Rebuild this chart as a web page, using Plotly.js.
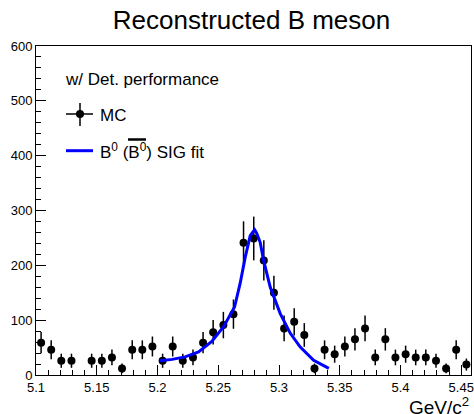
<!DOCTYPE html>
<html>
<head>
<meta charset="utf-8">
<script src="https://cdn.plot.ly/plotly-3.0.1.min.js"></script>
<style>html,body{margin:0;padding:0;background:#fff;}</style>
</head>
<body>
<div id="chart" style="width:474px;height:414px;"></div>
<script>
// Bin centres of the MC histogram (GeV/c^2)
const binCenters = [5.1042, 5.1125, 5.1208, 5.1292, 5.1375, 5.1458, 5.1542, 5.1625, 5.1708, 5.1792,
  5.1875, 5.1958, 5.2042, 5.2125, 5.2208, 5.2292, 5.2375, 5.2458, 5.2542, 5.2625,
  5.2708, 5.2792, 5.2875, 5.2958, 5.3042, 5.3125, 5.3208, 5.3292, 5.3375, 5.3458,
  5.3542, 5.3625, 5.3708, 5.3792, 5.3875, 5.3958, 5.4042, 5.4125, 5.4208, 5.4292,
  5.4375, 5.4458, 5.4542];
// MC counts per bin
const mcCounts = [59, 46, 26, 26, null, 26, 26, 32, 12, 46,
  46, 52, 26, 52, 26, 32, 59, 78, 91, 111,
  241, 249, 209, 150, 85, 97, 73, 12, 46, 38,
  52, 65, 85, 32, 65, 32, 38, 32, 32, 26,
  12, 46, 19];
// MC statistical errors
const mcErrors = [19.4, 17.2, 12.9, 12.9, null, 12.9, 12.9, 14.3, 8.8, 17.2,
  17.2, 18.2, 12.9, 18.2, 12.9, 14.3, 19.4, 22.3, 24.1, 26.7,
  39.3, 39.9, 36.6, 31.0, 23.3, 24.9, 21.6, 8.8, 17.2, 15.6,
  18.2, 20.4, 23.3, 14.3, 20.4, 14.3, 15.6, 14.3, 14.3, 12.9,
  8.8, 17.2, 11.0];
// Signal fit curve
const fitX = [5.202, 5.212, 5.2227, 5.2338, 5.2447, 5.2544, 5.2634, 5.268, 5.2722, 5.2745,
  5.2763, 5.2799, 5.2815, 5.2845, 5.2873, 5.2928, 5.301, 5.3093, 5.3175, 5.3285, 5.341];
const fitY = [26, 28.5, 33, 42, 61, 88, 124, 167, 215, 240,
  254, 265, 259, 242, 209, 160, 112, 76, 51, 27, 12];
// Text
const titleText = 'Reconstructed B meson';
const xTitle = 'GeV/c<sup>2</sup>';
const legendHeader = 'w/ Det. performance';
const legendMC = 'MC';
const legendFit = 'B<sup>0</sup> (B<sup>0</sup>) SIG fit';

const FONT = 'Liberation Sans, Arial, Helvetica, sans-serif';
const L = 36, R = 3, T = 46, B = 39, W = 474, H = 414;
const px = x => (x - L) / (W - L - R);
const py = y => (H - B - y) / (H - T - B);

const traces = [
  {
    x: binCenters, y: mcCounts, type: 'scatter', mode: 'markers',
    marker: {color: 'black', size: 8, symbol: 'circle'},
    error_y: {type: 'data', array: mcErrors, visible: true, color: 'black', thickness: 1.5, width: 0},
    showlegend: false, hoverinfo: 'skip'
  },
  {
    x: fitX, y: fitY, type: 'scatter', mode: 'lines',
    line: {color: '#0000ff', width: 3},
    showlegend: false, hoverinfo: 'skip'
  }
];

const layout = {
  width: W, height: H,
  margin: {l: L, r: R, t: T, b: B, pad: 0},
  paper_bgcolor: 'white', plot_bgcolor: 'white',
  font: {family: FONT, color: 'black', size: 13},
  showlegend: false,
  title: {text: titleText, font: {family: FONT, size: 26, color: 'black'},
          x: 251.5 / W, xanchor: 'center', xref: 'container',
          y: 1 - 20 / H, yanchor: 'middle', yref: 'container'},
  xaxis: {
    range: [5.1, 5.458], showgrid: false, zeroline: false,
    showline: true, mirror: true, linecolor: 'black', linewidth: 1,
    ticks: 'inside', ticklen: 10, tickcolor: 'black', tickwidth: 1,
    tick0: 5.1, dtick: 0.05, tickformat: '.2~f',
    tickfont: {family: FONT, size: 13, color: 'black'},
    minor: {ticks: 'inside', ticklen: 5, dtick: 0.01, tick0: 5.1, tickcolor: 'black', showgrid: false}
  },
  yaxis: {
    range: [0, 600], showgrid: false, zeroline: false,
    showline: true, mirror: true, linecolor: 'black', linewidth: 1,
    ticks: 'inside', ticklen: 10, tickcolor: 'black', tickwidth: 1,
    tick0: 0, dtick: 100,
    tickfont: {family: FONT, size: 13, color: 'black'},
    minor: {ticks: 'inside', ticklen: 5, dtick: 20, tickcolor: 'black', showgrid: false}
  },
  annotations: [
    {text: xTitle, xref: 'paper', yref: 'paper', x: px(471), y: py(406), xanchor: 'right', yanchor: 'middle',
     showarrow: false, font: {family: FONT, size: 19, color: 'black'}},
    {text: legendHeader, xref: 'paper', yref: 'paper', x: px(63), y: py(80), xanchor: 'left', yanchor: 'middle',
     showarrow: false, font: {family: FONT, size: 17, color: 'black'}},
    {text: legendMC, xref: 'paper', yref: 'paper', x: px(98), y: py(115), xanchor: 'left', yanchor: 'middle',
     showarrow: false, font: {family: FONT, size: 17, color: 'black'}},
    {text: legendFit, xref: 'paper', yref: 'paper', x: px(98), y: py(151), xanchor: 'left', yanchor: 'middle',
     showarrow: false, font: {family: FONT, size: 17, color: 'black'}}
  ],
  shapes: [
    {type: 'line', xref: 'paper', yref: 'paper', x0: px(66), x1: px(93), y0: py(114), y1: py(114), line: {color: 'black', width: 1.5}},
    {type: 'line', xref: 'paper', yref: 'paper', x0: px(80), x1: px(80), y0: py(103), y1: py(126), line: {color: 'black', width: 1.5}},
    {type: 'circle', xref: 'paper', yref: 'paper', x0: px(76), x1: px(84), y0: py(118), y1: py(110), fillcolor: 'black', line: {color: 'black', width: 0}},
    {type: 'line', xref: 'paper', yref: 'paper', x0: px(66), x1: px(93), y0: py(150.7), y1: py(150.7), line: {color: '#0000ff', width: 3}},
    {type: 'line', xref: 'paper', yref: 'paper', x0: px(128), x1: px(146), y0: py(139.5), y1: py(139.5), line: {color: 'black', width: 2.5}}
  ]
};

Plotly.newPlot('chart', traces, layout, {staticPlot: true, displayModeBar: false});
</script>
</body>
</html>
